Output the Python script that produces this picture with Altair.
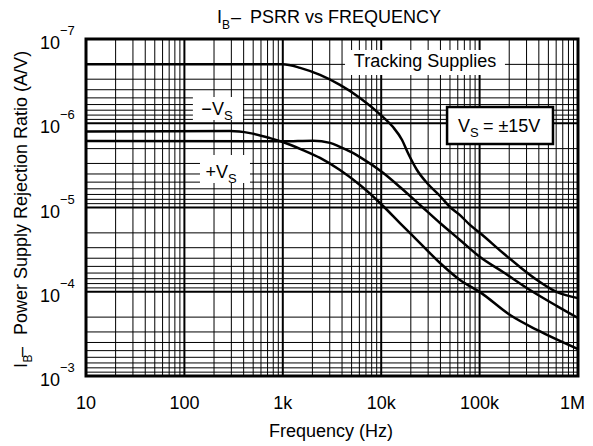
import altair as alt
import pandas as pd

# ---------------- data ----------------
freq_tracking = [10, 1000, 1500, 2390, 3810, 6090, 10400, 13200, 16300, 18700, 23100,
                 29200, 39600, 50000, 63200, 79800, 101000, 173000, 257000, 383000, 612000, 1000000]
psrr_tracking = [2.0e-7, 2.0e-7, 2.2e-7, 2.67e-7, 3.51e-7, 5.0e-7, 8.4e-7, 1.11e-6, 1.58e-6, 2.26e-6, 3.59e-6,
                 5.12e-6, 7.3e-6, 9.86e-6, 1.23e-5, 1.61e-5, 2.01e-5, 3.47e-5, 5.08e-5, 7.25e-5, 1.01e-4, 1.19e-4]

freq_plus = [10, 1000, 2030, 3020, 3810, 5160, 6090, 10200, 15500, 24800, 39600,
             63200, 101000, 173000, 325000, 612000, 1000000]
psrr_plus = [1.62e-6, 1.64e-6, 1.61e-6, 1.71e-6, 1.91e-6, 2.25e-6, 2.52e-6, 3.79e-6, 5.71e-6, 9.34e-6, 1.53e-5,
             2.43e-5, 3.87e-5, 5.83e-5, 9.53e-5, 1.48e-4, 2.05e-4]

freq_minus = [10, 290, 464, 741, 1000, 1600, 2390, 3810, 6090, 10200, 15500, 24800,
              39600, 63200, 101000, 204000, 383000, 1000000]
psrr_minus = [1.25e-6, 1.24e-6, 1.31e-6, 1.50e-6, 1.67e-6, 2.08e-6, 2.58e-6, 3.59e-6, 5.41e-6, 9.34e-6, 1.53e-5, 2.64e-5,
              4.56e-5, 7.25e-5, 1.01e-4, 1.89e-4, 2.84e-4, 4.79e-4]

x_major = [10, 100, 1000, 10000, 100000, 1000000]
x_tick_labels = ["10", "100", "1k", "10k", "100k", "1M"]
y_major = [1e-7, 1e-6, 1e-5, 1e-4, 1e-3]
y_exponents = ["\u22127", "\u22126", "\u22125", "\u22124", "\u22123"]
x_minor = [m * d for d in x_major[:-1] for m in range(2, 10)]
y_minor = [m * d for d in y_major[:-1] for m in range(2, 10)]

# annotation boxes (data coordinates)
plain_boxes = pd.DataFrame({
    "f1": [4290, 122, 144], "f2": [181000, 394, 464],
    "v1": [1.35e-7, 4.88e-7, 2.38e-6], "v2": [2.67e-7, 9.14e-7, 5.12e-6],
})
vs_box = pd.DataFrame({"f1": [46700], "f2": [557000], "v1": [6.41e-7], "v2": [1.76e-6]})

main_labels = pd.DataFrame({"f": [252, 277, 79800], "v": [7.98e-7, 4.47e-6, 1.27e-6],
                            "text": ["\u2212V", "+V", "V"]})
sub_labels = pd.DataFrame({"f": [252, 277, 79800], "v": [7.98e-7, 4.47e-6, 1.27e-6],
                           "text": ["S", "S", "S"]})
eq_label = pd.DataFrame({"f": [79800], "v": [1.27e-6], "text": ["= \u00b115V"]})
track_label = pd.DataFrame({"f": [27900], "v": [2.15e-7], "text": ["Tracking Supplies"]})

FONT = "Liberation Sans"
W, H = 492, 337

xs = alt.Scale(type="log", domain=[x_major[0], x_major[-1]], nice=False)
ys = alt.Scale(type="log", domain=[y_major[0], y_major[-1]], reverse=True, nice=False)

curves = pd.concat([
    pd.DataFrame({"f": freq_tracking, "v": psrr_tracking, "s": "Tracking"}),
    pd.DataFrame({"f": freq_plus, "v": psrr_plus, "s": "+VS"}),
    pd.DataFrame({"f": freq_minus, "v": psrr_minus, "s": "-VS"}),
])

X = lambda f: alt.X(f, type="quantitative", scale=xs, axis=None)
Y = lambda f: alt.Y(f, type="quantitative", scale=ys, axis=None)

gx_minor = alt.Chart(pd.DataFrame({"f": x_minor})).mark_rule(color="black", strokeWidth=1).encode(x=X("f"))
gx_major = alt.Chart(pd.DataFrame({"f": x_major})).mark_rule(color="black", strokeWidth=2).encode(x=X("f"))
gy_minor = alt.Chart(pd.DataFrame({"v": y_minor})).mark_rule(color="black", strokeWidth=1).encode(y=Y("v"))
gy_major = alt.Chart(pd.DataFrame({"v": y_major})).mark_rule(color="black", strokeWidth=2).encode(y=Y("v"))

boxes = alt.Chart(plain_boxes).mark_rect(color="white").encode(
    x=X("f1"), x2="f2", y=Y("v1"), y2="v2")
box_vs = alt.Chart(vs_box).mark_rect(fill="white", stroke="black", strokeWidth=2.5).encode(
    x=X("f1"), x2="f2", y=Y("v1"), y2="v2")

lines = alt.Chart(curves).mark_line(color="black", strokeWidth=2.5, interpolate="monotone").encode(
    x=X("f"), y=Y("v"), detail="s:N")

t_main = alt.Chart(main_labels).mark_text(font=FONT, fontSize=18, align="right", baseline="alphabetic").encode(
    x=X("f"), y=Y("v"), text="text:N")
t_sub = alt.Chart(sub_labels).mark_text(font=FONT, fontSize=13, align="left", baseline="alphabetic", dy=5).encode(
    x=X("f"), y=Y("v"), text="text:N")
t_eq = alt.Chart(eq_label).mark_text(font=FONT, fontSize=18, align="left", baseline="alphabetic", dx=13).encode(
    x=X("f"), y=Y("v"), text="text:N")
t_track = alt.Chart(track_label).mark_text(font=FONT, fontSize=18, align="center", baseline="alphabetic").encode(
    x=X("f"), y=Y("v"), text="text:N")

frame_df = pd.DataFrame({"f1": [x_major[0]], "f2": [x_major[-1]], "v1": [y_major[0]], "v2": [y_major[-1]]})
frame = alt.Chart(frame_df).mark_rect(fillOpacity=0, stroke="black", strokeWidth=3).encode(
    x=X("f1"), x2="f2", y=Y("v1"), y2="v2")

# tick labels
xlab = alt.Chart(pd.DataFrame({"f": x_major[:-1], "t": x_tick_labels[:-1]})).mark_text(
    font=FONT, fontSize=18, align="center", baseline="alphabetic").encode(
    x=X("f"), y=alt.value(H + 33), text="t:N")
xlab_last = alt.Chart(pd.DataFrame({"f": x_major[-1:], "t": x_tick_labels[-1:]})).mark_text(
    font=FONT, fontSize=18, align="right", baseline="alphabetic", dx=7).encode(
    x=X("f"), y=alt.value(H + 33), text="t:N")
ylab10 = alt.Chart(pd.DataFrame({"v": y_major, "t": ["10"] * len(y_major)})).mark_text(
    font=FONT, fontSize=18, align="right", baseline="middle", dy=5).encode(
    y=Y("v"), x=alt.value(-26), text="t:N")
ylabexp = alt.Chart(pd.DataFrame({"v": y_major, "t": y_exponents})).mark_text(
    font=FONT, fontSize=13, align="left", baseline="middle", dy=-8).encode(
    y=Y("v"), x=alt.value(-26), text="t:N")

def piece(text, x, y, size=18, align="left", angle=0, dx=0, dy=0):
    return alt.Chart(pd.DataFrame({"t": [text]})).mark_text(
        font=FONT, fontSize=size, align=align, baseline="alphabetic", angle=angle, dx=dx, dy=dy).encode(
        x=alt.value(x), y=alt.value(y), text="t:N")

title_parts = [
    piece("I", 136, -16, align="right"),
    piece("B", 136, -10, size=12),
    piece("\u2013", 145, -16),
    piece("PSRR vs FREQUENCY", 164, -16),
]
ytitle_parts = [
    piece("I", -59, 329, angle=270),
    piece("B", -59, 329, size=12, angle=270, dx=5.5, dy=5),
    piece("\u2013", -59, 329, angle=270, dx=11),
    piece("Power Supply Rejection Ratio (A/V)", -59, 329, angle=270, dx=33),
]
xtitle = piece("Frequency (Hz)", 245, 398, align="center")

chart = alt.layer(
    gx_minor, gy_minor, gx_major, gy_major, boxes, box_vs, lines,
    t_main, t_sub, t_eq, t_track, frame, xlab, xlab_last, ylab10, ylabexp,
    *title_parts, *ytitle_parts, xtitle,
).properties(
    width=W, height=H,
    autosize=alt.AutoSizeParams(type="none"),
    padding={"left": 78, "top": 31, "right": 7, "bottom": 67},
).configure_view(stroke=None)

chart.save("out.html", embed_options={"renderer": "svg", "actions": False})
